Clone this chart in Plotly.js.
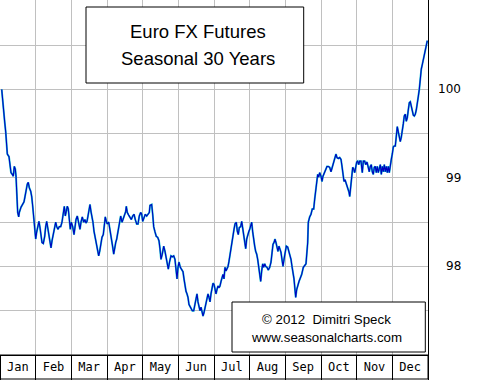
<!DOCTYPE html>
<html>
<head>
<meta charset="utf-8">
<script src="https://cdn.plot.ly/plotly-3.0.1.min.js"></script>
<style>html,body{margin:0;padding:0;background:#fff;}#chart{width:480px;height:380px;}</style>
</head>
<body>
<div id="chart"></div>
<script>
const months = ['Jan','Feb','Mar','Apr','May','Jun','Jul','Aug','Sep','Oct','Nov','Dec'];
const yTickValues = [98, 99, 100];
const titleLines = ['Euro FX Futures', 'Seasonal 30 Years'];
const creditLines = ['\u00a9 2012\u00a0\u00a0Dimitri Speck', 'www.seasonalcharts.com'];

// position within the year, in months (0 = 1 Jan, 12 = 31 Dec)
const monthPos = [
0.048,0.076,0.112,0.132,0.160,0.188,0.205,0.252,0.280,0.308,0.345,0.373,0.401,0.429,0.449,0.468,0.496,0.524,0.541,0.589,
0.625,0.673,0.701,0.729,0.765,0.793,0.821,0.861,0.889,0.917,0.945,0.973,1.001,1.029,1.057,1.093,1.121,1.150,1.178,1.214,
1.253,1.281,1.309,1.337,1.365,1.402,1.430,1.458,1.494,1.522,1.562,1.590,1.626,1.663,1.702,1.738,1.775,1.803,1.831,1.859,
1.887,1.915,1.943,1.971,1.999,2.038,2.075,2.103,2.131,2.167,2.207,2.243,2.271,2.307,2.347,2.383,2.411,2.439,2.467,2.495,
2.523,2.551,2.579,2.607,2.635,2.664,2.692,2.720,2.748,2.767,2.795,2.823,2.860,2.896,2.924,2.952,2.980,3.008,3.048,3.084,
3.121,3.160,3.188,3.216,3.244,3.272,3.300,3.328,3.356,3.384,3.421,3.449,3.485,3.524,3.541,3.569,3.608,3.645,3.681,3.721,
3.757,3.793,3.833,3.869,3.906,3.945,3.973,4.001,4.037,4.074,4.113,4.150,4.186,4.206,4.253,4.281,4.309,4.346,4.382,4.421,
4.458,4.486,4.514,4.550,4.590,4.626,4.654,4.691,4.719,4.758,4.794,4.831,4.870,4.906,4.935,4.963,4.991,5.019,5.055,5.094,
5.131,5.159,5.187,5.215,5.243,5.271,5.299,5.327,5.355,5.392,5.431,5.467,5.495,5.523,5.551,5.579,5.607,5.636,5.664,5.692,
5.720,5.748,5.776,5.804,5.832,5.860,5.888,5.916,5.944,5.972,6.000,6.028,6.056,6.084,6.112,6.140,6.168,6.196,6.224,6.252,
6.280,6.308,6.336,6.364,6.393,6.421,6.449,6.477,6.505,6.533,6.561,6.589,6.625,6.653,6.681,6.709,6.748,6.777,6.805,6.833,
6.861,6.889,6.917,6.945,6.973,7.001,7.029,7.057,7.085,7.113,7.141,7.169,7.197,7.225,7.253,7.281,7.309,7.337,7.365,7.393,
7.421,7.450,7.486,7.522,7.562,7.598,7.626,7.654,7.682,7.710,7.738,7.766,7.794,7.822,7.850,7.878,7.906,7.935,7.963,7.991,
8.027,8.066,8.103,8.131,8.159,8.187,8.215,8.243,8.291,8.319,8.383,8.459,8.504,8.579,8.627,8.644,8.683,8.720,8.756,8.795,
8.823,8.851,8.879,8.907,8.935,8.963,9.000,9.028,9.056,9.093,9.132,9.168,9.205,9.244,9.280,9.317,9.356,9.392,9.420,9.448,
9.485,9.524,9.561,9.589,9.617,9.645,9.673,9.701,9.729,9.757,9.785,9.805,9.833,9.861,9.889,9.917,9.945,9.973,10.001,10.029,
10.057,10.085,10.121,10.158,10.186,10.225,10.253,10.290,10.326,10.354,10.382,10.410,10.438,10.466,10.494,10.522,10.550,10.578,10.607,10.635,
10.663,10.691,10.719,10.747,10.775,10.803,10.831,10.859,10.887,10.915,10.943,10.971,10.999,11.027,11.055,11.083,11.111,11.139,11.167,11.195,
11.223,11.251,11.279,11.307,11.335,11.363,11.391,11.420,11.448,11.476,11.504,11.532,11.560,11.588,11.616,11.644,11.672,11.700,11.728,11.756,
11.784,11.812,11.840,11.868,11.896,11.924,11.952,11.980
];

// seasonal pattern (index)
const price = [
100.00,99.85,99.72,99.63,99.52,99.40,99.27,99.24,99.13,99.06,99.04,99.02,99.13,99.10,99.02,98.84,98.61,98.56,98.61,98.67,
98.69,98.73,98.79,98.87,98.93,98.95,98.89,98.85,98.79,98.68,98.53,98.40,98.31,98.39,98.45,98.51,98.44,98.34,98.27,98.26,
98.34,98.45,98.51,98.44,98.36,98.27,98.21,98.29,98.36,98.45,98.50,98.45,98.42,98.45,98.45,98.50,98.61,98.68,98.57,98.62,
98.68,98.65,98.53,98.42,98.50,98.45,98.36,98.45,98.53,98.57,98.48,98.42,98.50,98.56,98.50,98.53,98.49,98.51,98.57,98.62,
98.70,98.62,98.57,98.50,98.40,98.33,98.29,98.22,98.16,98.12,98.17,98.25,98.33,98.36,98.45,98.56,98.51,98.48,98.50,98.42,
98.31,98.22,98.14,98.22,98.27,98.31,98.39,98.44,98.50,98.57,98.50,98.53,98.57,98.62,98.68,98.61,98.58,98.56,98.53,98.57,
98.59,98.53,98.48,98.48,98.57,98.61,98.59,98.51,98.56,98.59,98.57,98.59,98.61,98.69,98.70,98.59,98.45,98.39,98.34,98.33,
98.29,98.20,98.08,98.14,98.23,98.17,98.11,98.05,97.97,98.06,98.12,98.11,98.12,98.08,97.95,97.86,97.99,98.05,97.99,97.97,
97.94,97.86,97.78,97.72,97.69,97.65,97.57,97.55,97.54,97.50,97.50,97.57,97.66,97.69,97.60,97.52,97.50,97.54,97.50,97.44,
97.48,97.54,97.57,97.63,97.69,97.65,97.60,97.69,97.77,97.81,97.80,97.74,97.69,97.74,97.78,97.76,97.78,97.83,97.88,97.91,
97.86,97.99,97.95,97.97,98.00,98.06,98.14,98.22,98.29,98.36,98.42,98.48,98.50,98.40,98.36,98.44,98.45,98.51,98.44,98.36,
98.29,98.20,98.31,98.36,98.39,98.42,98.45,98.50,98.39,98.29,98.23,98.17,98.14,98.08,98.00,97.91,97.83,97.95,98.03,97.99,
98.03,98.00,97.99,97.96,97.99,98.05,98.14,98.25,98.27,98.31,98.27,98.23,98.17,98.23,98.20,98.16,98.08,98.00,98.08,98.16,
98.23,98.22,98.17,98.14,98.08,98.00,97.94,97.86,97.65,97.74,97.83,97.91,97.99,98.03,98.27,98.50,98.56,98.59,98.65,98.65,
98.76,98.87,98.98,99.04,99.01,99.06,99.02,98.96,99.02,99.06,99.10,99.13,99.13,99.12,99.07,99.13,99.19,99.24,99.27,99.23,
99.22,99.23,99.21,99.13,99.04,98.96,98.98,98.95,98.91,98.87,98.84,98.79,98.89,99.01,99.12,99.10,99.06,99.12,99.18,99.19,
99.15,99.19,99.19,99.06,99.19,99.19,99.15,99.18,99.12,99.07,99.13,99.15,99.07,99.04,99.12,99.13,99.06,99.13,99.06,99.12,
99.15,99.04,99.13,99.07,99.15,99.07,99.13,99.06,99.13,99.06,99.18,99.21,99.27,99.35,99.36,99.36,99.47,99.58,99.52,99.46,
99.41,99.46,99.52,99.61,99.70,99.72,99.64,99.68,99.77,99.85,99.86,99.81,99.74,99.71,99.70,99.72,99.77,99.83,99.92,100.00,
100.14,100.23,100.28,100.34,100.37,100.47,100.53,100.55
];

const monthEdges = months.map((m, i) => i).concat([months.length]);
const monthCenters = months.map((m, i) => i + 0.5);

const traces = [
  {x: monthPos, y: price, type: 'scatter', mode: 'lines', xaxis: 'x', yaxis: 'y',
   line: {color: '#10c0d0', width: 1.9}, hoverinfo: 'skip', showlegend: false},
  {x: monthPos, y: price, type: 'scatter', mode: 'lines', xaxis: 'x2', yaxis: 'y',
   line: {color: '#0000c0', width: 1.1}, showlegend: false}
];

const annotations = [];
yTickValues.forEach(v => annotations.push({
  x: 1, xref: 'paper', y: v, yref: 'y', xanchor: 'right', yanchor: 'middle', xshift: 35,
  text: String(v), showarrow: false, font: {family: 'DejaVu Sans', size: 12, color: '#000'}
}));
annotations.push({x: 0.463, xref: 'paper', y: 1 - 31.5/355, yref: 'paper', xanchor: 'center', yanchor: 'middle',
  text: titleLines[0], showarrow: false, font: {family: 'Liberation Sans, Arial', size: 18.5, color: '#000'}});
annotations.push({x: 0.463, xref: 'paper', y: 1 - 58/355, yref: 'paper', xanchor: 'center', yanchor: 'middle',
  text: titleLines[1], showarrow: false, font: {family: 'Liberation Sans, Arial', size: 18.5, color: '#000'}});
annotations.push({x: 326.5/428, xref: 'paper', y: 1 - 319.5/355, yref: 'paper', xanchor: 'center', yanchor: 'middle',
  text: creditLines[0], showarrow: false, font: {family: 'Liberation Sans, Arial', size: 13.3, color: '#000'}});
annotations.push({x: 326.5/428, xref: 'paper', y: 1 - 337.5/355, yref: 'paper', xanchor: 'center', yanchor: 'middle',
  text: creditLines[1], showarrow: false, font: {family: 'Liberation Sans, Arial', size: 13.3, color: '#000'}});

const layout = {
  width: 480, height: 380,
  margin: {l: 0, r: 52, t: 0, b: 25, pad: 0},
  paper_bgcolor: '#ffffff', plot_bgcolor: '#ffffff',
  showlegend: false,
  xaxis: {range: [0, 12], tickvals: monthEdges, showticklabels: false, ticks: 'outside', ticklen: 24,
          tickcolor: '#000', tickwidth: 1, showgrid: true, gridcolor: '#c0c0c0', gridwidth: 1,
          showline: true, linecolor: '#000', linewidth: 1, mirror: true, zeroline: false, fixedrange: true},
  xaxis2: {range: [0, 12], overlaying: 'x', anchor: 'y', side: 'bottom', tickvals: monthCenters, ticktext: months,
           ticks: '', showgrid: false, showline: false, zeroline: false, ticklabelstandoff: 3,
           tickfont: {family: 'DejaVu Sans Mono', size: 12, color: '#000'}, fixedrange: true},
  yaxis: {range: [97, 101.01], tick0: 97, dtick: 0.5, showticklabels: false, ticks: '',
          showgrid: true, gridcolor: '#c0c0c0', gridwidth: 1, showline: true, linecolor: '#000',
          linewidth: 1, mirror: true, zeroline: false, fixedrange: true},
  shapes: [
    {type: 'rect', xref: 'x', x0: 0, x1: 12, yref: 'paper', y0: -24/355, y1: 0,
     line: {color: '#000', width: 1}, fillcolor: 'rgba(0,0,0,0)', layer: 'above'},
    {type: 'rect', xref: 'paper', x0: 86/428, x1: 303.7/428, yref: 'paper', y0: 1 - 83/355, y1: 1 - 7/355,
     line: {color: '#000', width: 1}, fillcolor: '#ffffff', layer: 'above'},
    {type: 'rect', xref: 'paper', x0: 232/428, x1: 425.3/428, yref: 'paper', y0: 1 - 352/355, y1: 1 - 302/355,
     line: {color: '#000', width: 1}, fillcolor: '#ffffff', layer: 'above'}
  ],
  annotations: annotations
};

Plotly.newPlot('chart', traces, layout, {staticPlot: true, displayModeBar: false});
</script>
</body>
</html>
